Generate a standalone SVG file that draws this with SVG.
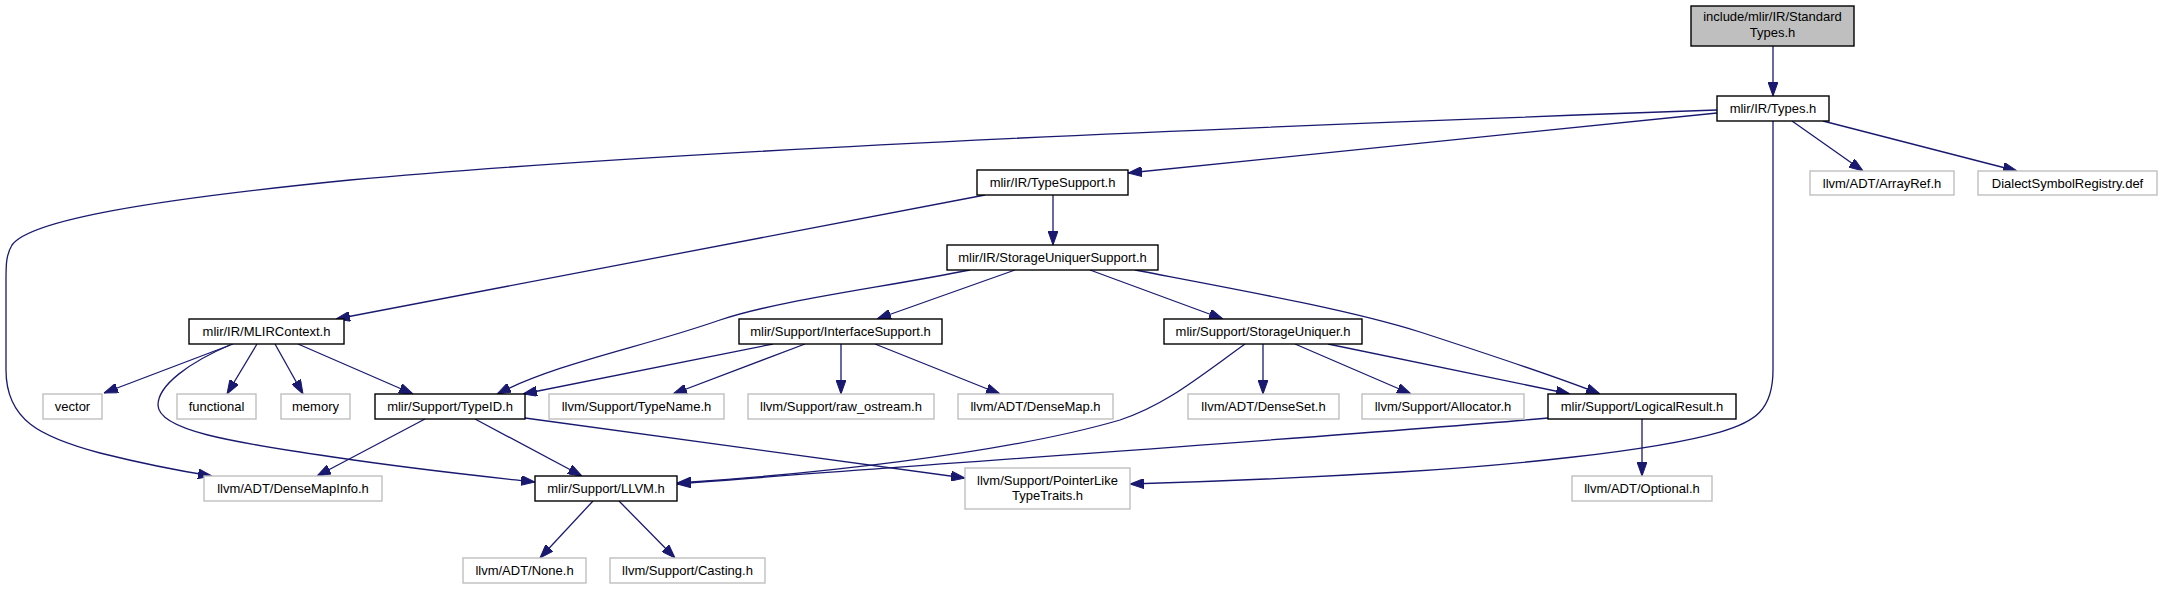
<svg xmlns="http://www.w3.org/2000/svg" width="2162" height="589" viewBox="0 0 2162 589">
<defs>
<marker id="ah" markerUnits="userSpaceOnUse" markerWidth="14" markerHeight="10" refX="14" refY="5" orient="auto" viewBox="0 0 14 10">
<path d="M0,0 L14,5 L0,10 z" fill="#191970" stroke="#191970" stroke-width="1"/>
</marker>
<style>
.n rect{fill:#ffffff;stroke:#000000;stroke-width:1.4}
.g rect{fill:#ffffff;stroke:#bfbfbf;stroke-width:1.4}
.r rect{fill:#bfbfbf;stroke:#000000;stroke-width:1.4}
text{font-family:"Liberation Sans",Arial,sans-serif;font-size:13px;fill:#000000;text-anchor:middle}
#edges path{fill:none;stroke:#191970;stroke-width:1.3;marker-end:url(#ah)}
</style>
</defs>
<rect width="2162" height="589" fill="#ffffff"/>
<g id="edges">
<path d="M1773,46 L1773,96"/>
<path d="M1717,110 C1300,125 700,148 350,180 C150,200 30,220 12,245 C6,255 6,265 6,280 L6,370 C6,420 40,437 100,453 C140,463 180,471 212,476"/>
<path d="M1717,113 L1128,173"/>
<path d="M1792,121 L1863,171"/>
<path d="M1823,121 L2017,171"/>
<path d="M1773,121 L1773,370 C1773,410 1755,422 1720,432 C1650,452 1500,466 1400,472 C1300,478 1200,482 1130,484"/>
<path d="M1053,195 L1053,245"/>
<path d="M985,195 L336,319"/>
<path d="M970,270 C880,288 780,300 720,320 C640,348 560,362 497,394"/>
<path d="M1015,270 L877,319"/>
<path d="M1090,270 L1223,319"/>
<path d="M1135,270 C1250,292 1350,310 1420,332 C1500,358 1560,378 1600,394"/>
<path d="M1328,344 L1570,394"/>
<path d="M1263,344 L1263,394"/>
<path d="M1295,344 L1411,394"/>
<path d="M1245,344 C1195,380 1165,405 1120,420 C1000,455 800,475 677,483"/>
<path d="M1548,418 C1400,432 900,466 677,484"/>
<path d="M525,418 L965,478"/>
<path d="M233,344 L104,393"/>
<path d="M257,344 L227,394"/>
<path d="M275,344 L303,394"/>
<path d="M298,344 L413,394"/>
<path d="M230,345 C190,362 158,385 158,405 C158,430 230,442 333,457 C420,470 480,476 535,482"/>
<path d="M773,344 L523,394"/>
<path d="M805,344 L673,394"/>
<path d="M841,344 L841,394"/>
<path d="M875,344 L1000,394"/>
<path d="M425,419 L317,476"/>
<path d="M475,419 L582,476"/>
<path d="M593,501 L540,558"/>
<path d="M619,501 L675,558"/>
<path d="M1642,419 L1642,476"/>
</g>
<g id="StandardTypes" class="r"><rect x="1691" y="6" width="163" height="40"/><text x="1772.5" y="21">include/mlir/IR/Standard</text><text x="1772.5" y="37">Types.h</text></g>
<g id="Types" class="n"><rect x="1717" y="96" width="112" height="25"/><text x="1773" y="113">mlir/IR/Types.h</text></g>
<g id="ArrayRef" class="g"><rect x="1810" y="171" width="144" height="24"/><text x="1882" y="188">llvm/ADT/ArrayRef.h</text></g>
<g id="DialectSymbolRegistry" class="g"><rect x="1978" y="171" width="179" height="24"/><text x="2067.5" y="188">DialectSymbolRegistry.def</text></g>
<g id="TypeSupport" class="n"><rect x="977" y="170" width="151" height="25"/><text x="1052.5" y="187">mlir/IR/TypeSupport.h</text></g>
<g id="StorageUniquerSupport" class="n"><rect x="947" y="245" width="211" height="25"/><text x="1052.5" y="262">mlir/IR/StorageUniquerSupport.h</text></g>
<g id="MLIRContext" class="n"><rect x="189" y="319" width="155" height="25"/><text x="266.5" y="336">mlir/IR/MLIRContext.h</text></g>
<g id="InterfaceSupport" class="n"><rect x="739" y="319" width="203" height="25"/><text x="840.5" y="336">mlir/Support/InterfaceSupport.h</text></g>
<g id="StorageUniquer" class="n"><rect x="1164" y="319" width="198" height="25"/><text x="1263" y="336">mlir/Support/StorageUniquer.h</text></g>
<g id="vector" class="g"><rect x="43" y="394" width="59" height="25"/><text x="72.5" y="411">vector</text></g>
<g id="functional" class="g"><rect x="177" y="394" width="79" height="25"/><text x="216.5" y="411">functional</text></g>
<g id="memory" class="g"><rect x="281" y="394" width="69" height="25"/><text x="315.5" y="411">memory</text></g>
<g id="TypeID" class="n"><rect x="375" y="394" width="150" height="25"/><text x="450" y="411">mlir/Support/TypeID.h</text></g>
<g id="TypeName" class="g"><rect x="549" y="394" width="175" height="25"/><text x="636.5" y="411">llvm/Support/TypeName.h</text></g>
<g id="raw_ostream" class="g"><rect x="748" y="394" width="186" height="25"/><text x="841" y="411">llvm/Support/raw_ostream.h</text></g>
<g id="DenseMap" class="g"><rect x="958" y="394" width="155" height="25"/><text x="1035.5" y="411">llvm/ADT/DenseMap.h</text></g>
<g id="DenseSet" class="g"><rect x="1188" y="394" width="151" height="25"/><text x="1263.5" y="411">llvm/ADT/DenseSet.h</text></g>
<g id="Allocator" class="g"><rect x="1362" y="394" width="162" height="25"/><text x="1443" y="411">llvm/Support/Allocator.h</text></g>
<g id="LogicalResult" class="n"><rect x="1548" y="394" width="188" height="25"/><text x="1642" y="411">mlir/Support/LogicalResult.h</text></g>
<g id="DenseMapInfo" class="g"><rect x="204" y="476" width="178" height="25"/><text x="293" y="493">llvm/ADT/DenseMapInfo.h</text></g>
<g id="LLVM" class="n"><rect x="535" y="476" width="142" height="25"/><text x="606" y="493">mlir/Support/LLVM.h</text></g>
<g id="PointerLikeTypeTraits" class="g"><rect x="965" y="468" width="165" height="41"/><text x="1047.5" y="485">llvm/Support/PointerLike</text><text x="1047.5" y="500">TypeTraits.h</text></g>
<g id="Optional" class="g"><rect x="1572" y="476" width="140" height="25"/><text x="1642" y="493">llvm/ADT/Optional.h</text></g>
<g id="None" class="g"><rect x="463" y="558" width="123" height="25"/><text x="524.5" y="575">llvm/ADT/None.h</text></g>
<g id="Casting" class="g"><rect x="610" y="558" width="155" height="25"/><text x="687.5" y="575">llvm/Support/Casting.h</text></g>
</svg>
